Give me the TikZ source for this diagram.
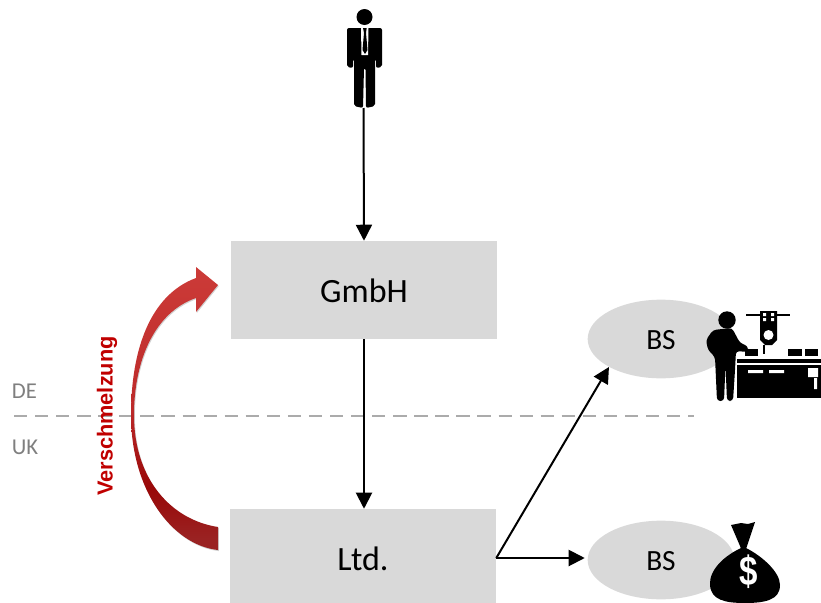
\documentclass[tikz,border=0pt]{standalone}
\usepackage{fontspec}
\setmainfont{Carlito}
\newfontfamily\arialfont{Liberation Sans}
\usetikzlibrary{arrows.meta,shapes.geometric}
\definecolor{boxgray}{HTML}{D9D9D9}
\definecolor{linegray}{HTML}{ABABAB}
\definecolor{textgray}{HTML}{7F7F7F}
\definecolor{mergered}{HTML}{C00000}
\definecolor{mergeend}{HTML}{9A2222}
\definecolor{mergedark}{HTML}{990808}
\definecolor{mergemid}{HTML}{BC2A2A}
\definecolor{mergetop}{HTML}{CC3B38}
\pgfdeclareverticalshading{mergeshade}{100bp}{
    color(0bp)=(mergeend);
    color(27bp)=(mergeend);
    color(36bp)=(mergedark);
    color(50bp)=(mergemid);
    color(75bp)=(mergetop);
    color(100bp)=(mergetop)}
\tikzset{
    boxnode/.style={fill=boxgray, minimum width=199.5pt, minimum height=73.5pt, inner sep=0pt, text depth=0pt, text height=19pt, font=\fontsize{25.5}{28}\selectfont},
    bsnode/.style={ellipse, fill=boxgray, minimum width=110pt, minimum height=59pt, inner sep=0pt, text depth=0pt, text height=15.5pt, font=\fontsize{22}{25}\selectfont},
    flow/.style={->, line width=1.5pt},
    sidelabel/.style={text=textgray, font=\fontsize{17}{20}\selectfont},
}
\def\mergepath{(218,285) -- (196,267) -- (196,278) .. controls (150,295) and (131,350) .. (131,415)
        .. controls (131,490) and (172,545) .. (218,550) -- (218,527)
        .. controls (172,520) and (134,480) .. (134,415)
        .. controls (134,360) and (155,312) .. (196,298) -- (196,312) -- cycle}
\begin{document}
\begin{tikzpicture}[x=0.75pt, y=-0.75pt, line join=round, >={Triangle[length=12pt,width=12pt]}]
    \useasboundingbox (0,0) rectangle (821,603);
    % border line
    \draw[linegray, line width=1.5pt, dash pattern=on 10pt off 5.8pt] (14,415.5) -- (694,415.5);
    \node[sidelabel] (de) at (24.5,391) {DE};
    \node[sidelabel] (uk) at (25,447) {UK};
    % boxes
    \node[boxnode] (gmbh) at (364,290) {GmbH};
    \node[boxnode, minimum height=70.5pt, text height=21pt] (ltd) at (363,556) {Ltd.};
    \node[bsnode] (bsa) at (661,339) {BS};
    \node[bsnode] (bsb) at (661,560) {BS};
    \coordinate (person) at (363.5,108);
    \coordinate (fork) at ([yshift=-1.5pt]ltd.east);
    % connectors
    \draw[flow] (person) -- (gmbh.north);
    \draw[flow] (gmbh.south) -- (gmbh.south |- ltd.north);
    \draw[flow] (fork) -- (bsa.south west);
    \draw[flow, shorten >=2pt] (fork) -- ([yshift=1.5pt]bsb.west);
    % merger arrow
    \fill[black!18, xshift=0.6pt, yshift=-0.8pt] \mergepath;
    \shade[shading=mergeshade] \mergepath;
    \node[rotate=90, text=mergered, font=\arialfont\bfseries\fontsize{16.3}{18}\selectfont] (merge) at (107,416) {Verschmelzung};
    % man in suit
    \fill (364.5,17) circle (8);
    \fill[rounded corners=1.5pt] (347,28) -- (382,28) -- (382,67) -- (376,68) -- (376,59) -- (375,59) -- (375,106) -- (366,108) -- (365.5,68) -- (364,68) -- (363,108) -- (354,106) -- (354,59) -- (353,59) -- (353,68) -- (347,67) -- cycle;
    \fill[white] (361,28) -- (368.5,28) -- (368,55) -- (361.5,55) -- cycle;
    \fill (363,28) -- (366.7,28) -- (366,33) -- (367.5,50) -- (365,54) -- (362.5,50) -- (364,33) -- cycle;
    % worker at machine
    \fill (727,320) circle (8.7);
    \fill[rounded corners=2.5pt] (713,330) -- (732,328) -- (740,343) -- (748,346) -- (748,352) -- (736,351) -- (735,370) -- (733,401) -- (727,401) -- (725.5,365) -- (724,401) -- (717,401) -- (715,357) -- (708,350) -- (706,340) -- cycle;
    \fill (760,311) -- (777,311) -- (777,340) -- (772,345) -- (765,345) -- (760,340) -- cycle;
    \fill (746,314) rectangle (760,316);
    \fill (777,314) rectangle (790,316);
    \fill[white] (768.5,335) circle (5);
    \fill[white] (763,313) rectangle (766,316) (771,313) rectangle (774,316) (763,318) rectangle (766,321) (771,318) rectangle (774,321);
    \fill (762.5,345) rectangle (764.5,354);
    \fill (745,349) rectangle (758,356);
    \fill (788,349) rectangle (802,356);
    \fill (805,349) rectangle (818,356);
    \fill (737,359) rectangle (821,363);
    \fill (737,365) rectangle (821,398);
    \fill[white] (748,370) rectangle (763,373) (769,370) rectangle (784,373);
    \fill[white] (808,368) rectangle (818,377) (814,378) rectangle (817,389);
    % money bag
    \fill (731,525) -- (741,523) -- (748,524) -- (755,522) -- (747,546) -- (746,549) -- (741,549) -- (740,546) -- cycle;
    \fill (741,548) .. controls (724,556) and (709,570) .. (710,585) .. controls (711,600) and (725,603) .. (745,603)
        .. controls (765,603) and (780,600) .. (780,585) .. controls (780,572) and (762,556) .. (746,548) -- cycle;
    \node[text=white, xscale=0.8, font=\arialfont\bfseries\fontsize{31}{33}\selectfont] (dollar) at (749,571.5) {\$};
\end{tikzpicture}
\end{document}
